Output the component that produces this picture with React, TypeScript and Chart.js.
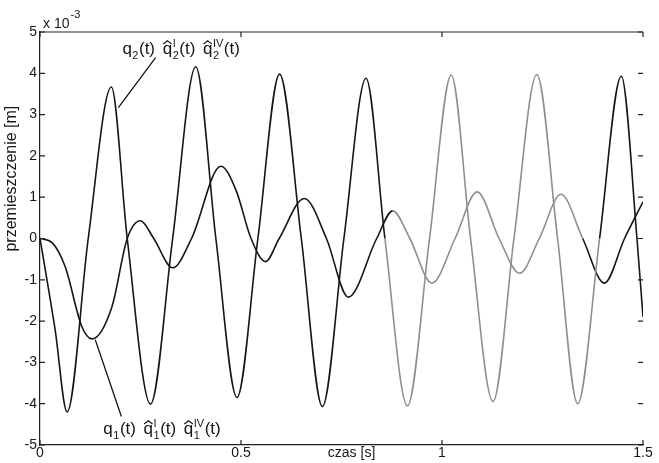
import React, { useEffect, useRef } from "react";
import { Chart, registerables } from "chart.js";

Chart.register(...registerables);

// ---- data (displacement in units of 1e-3 m, time in s) ----
const xTickValues = [0, 0.5, 1, 1.5];
const yTickValues = [-5, -4, -3, -2, -1, 0, 1, 2, 3, 4, 5];

const q2Time = [
  0, 0.0375, 0.0675, 0.12, 0.1775, 0.217, 0.275, 0.33, 0.3875, 0.4375, 0.49, 0.542,
  0.596, 0.65, 0.7025, 0.756, 0.811, 0.858, 0.914, 0.969, 1.023, 1.071, 1.127, 1.179,
  1.236, 1.2875, 1.3375, 1.392, 1.446, 1.485, 1.5,
];
const q2Values = [
  0, -2.2, -4.2, 0, 3.67, 0, -4.01, 0, 4.16, 0, -3.85, 0,
  3.98, 0, -4.07, 0, 3.88, 0, -4.05, 0, 3.96, 0, -3.95, 0,
  3.97, 0, -4.0, 0, 3.93, 0, -1.9,
];

const q1Time = [
  0, 0.03, 0.0625, 0.104, 0.129, 0.179, 0.217, 0.25, 0.283, 0.33, 0.377, 0.45, 0.4875,
  0.525, 0.561, 0.595, 0.6575, 0.7125, 0.767, 0.8375, 0.8775, 0.92, 0.975, 1.0325,
  1.0875, 1.142, 1.193, 1.242, 1.296, 1.35, 1.404, 1.454, 1.5,
];
const q1Values = [
  0, -0.1, -0.68, -2.13, -2.43, -1.65, 0, 0.43, 0, -0.71, 0, 1.75, 1.17,
  0, -0.56, 0, 0.97, 0, -1.42, 0, 0.67, 0, -1.08, 0,
  1.13, 0, -0.84, 0, 1.07, 0, -1.08, 0, 0.89,
];

const xAxisLabel = "czas [s]";
const yAxisLabel = "przemieszczenie [m]";
const scaleLabel = "x 10";
const scaleExponent = "-3";

// faded (lighter scan) interval in time
const fadedFrom = 0.88;
const fadedTo = 1.37;

const FONT = '"Liberation Sans", Arial, Helvetica, sans-serif';
const INK = "#161616";
const FADED = "#8e8e8e";

function drawQ(
  ctx: CanvasRenderingContext2D,
  x: number,
  baseline: number,
  size: number,
  hat: boolean,
  sub: string,
  sup: string
): number {
  ctx.font = `${size}px ${FONT}`;
  ctx.textAlign = "left";
  ctx.textBaseline = "alphabetic";
  const w = ctx.measureText("q").width;
  ctx.fillText("q", x, baseline);
  if (hat) {
    ctx.beginPath();
    ctx.lineWidth = 1.2;
    ctx.moveTo(x + 0.05 * w, baseline - 0.6 * size);
    ctx.lineTo(x + 0.5 * w, baseline - 0.8 * size);
    ctx.lineTo(x + 0.95 * w, baseline - 0.6 * size);
    ctx.stroke();
  }
  const small = Math.round(size * 0.62);
  ctx.font = `${small}px ${FONT}`;
  let sw = 0;
  if (sub) {
    ctx.fillText(sub, x + w + 0.5, baseline + 0.28 * size);
    sw = Math.max(sw, ctx.measureText(sub).width);
  }
  if (sup) {
    ctx.fillText(sup, x + w + 0.5, baseline - 0.42 * size);
    sw = Math.max(sw, ctx.measureText(sup).width);
  }
  ctx.font = `${size}px ${FONT}`;
  return x + w + 0.5 + sw + 0.5;
}

function drawText(ctx: CanvasRenderingContext2D, s: string, x: number, baseline: number, size: number): number {
  ctx.font = `${size}px ${FONT}`;
  ctx.textAlign = "left";
  ctx.textBaseline = "alphabetic";
  ctx.fillText(s, x, baseline);
  return x + ctx.measureText(s).width;
}

function drawLabelGroup(ctx: CanvasRenderingContext2D, x: number, baseline: number, size: number, idx: string) {
  let cx = x;
  const gap = size * 0.45;
  cx = drawQ(ctx, cx, baseline, size, false, idx, "");
  cx = drawText(ctx, "(t)", cx, baseline, size);
  cx += gap;
  cx = drawQ(ctx, cx, baseline, size, true, idx, "I");
  cx = drawText(ctx, "(t)", cx, baseline, size);
  cx += gap;
  cx = drawQ(ctx, cx, baseline, size, true, idx, "IV");
  drawText(ctx, "(t)", cx, baseline, size);
}

const framePlugin = {
  id: "matlabFrame",
  afterDraw(chart: any) {
    const { ctx, chartArea: a, scales } = chart;
    const xs = scales.x;
    const ys = scales.y;
    ctx.save();
    ctx.strokeStyle = "#222";
    ctx.fillStyle = INK;
    ctx.lineWidth = 1.2;
    // top border
    ctx.beginPath();
    ctx.moveTo(a.left, a.top);
    ctx.lineTo(a.right, a.top);
    ctx.stroke();
    // inward ticks
    ctx.beginPath();
    for (const v of yTickValues) {
      const py = ys.getPixelForValue(v);
      ctx.moveTo(a.left, py);
      ctx.lineTo(a.left + 5, py);
      ctx.moveTo(a.right - 5, py);
      ctx.lineTo(a.right, py);
    }
    for (const v of xTickValues) {
      const px = xs.getPixelForValue(v);
      ctx.moveTo(px, a.bottom);
      ctx.lineTo(px, a.bottom - 5);
      ctx.moveTo(px, a.top);
      ctx.lineTo(px, a.top + 5);
    }
    ctx.stroke();

    // exponent label
    ctx.font = `14px ${FONT}`;
    ctx.textAlign = "left";
    ctx.textBaseline = "alphabetic";
    ctx.fillText(scaleLabel, a.left + 3, a.top - 4);
    const w10 = ctx.measureText(scaleLabel).width;
    ctx.font = `11px ${FONT}`;
    ctx.fillText(scaleExponent, a.left + 3 + w10 + 1, a.top - 14);

    // x axis label
    ctx.font = `14px ${FONT}`;
    ctx.textAlign = "center";
    ctx.textBaseline = "middle";
    ctx.fillText(xAxisLabel, xs.getPixelForValue(0.775), a.bottom + 8);

    // y axis label
    ctx.save();
    ctx.translate(12, ys.getPixelForValue(1.45));
    ctx.rotate(-Math.PI / 2);
    ctx.font = `16px ${FONT}`;
    ctx.textAlign = "center";
    ctx.textBaseline = "middle";
    ctx.fillText(yAxisLabel, 0, 0);
    ctx.restore();

    // annotations
    ctx.strokeStyle = INK;
    ctx.lineWidth = 1.3;
    ctx.beginPath();
    ctx.moveTo(xs.getPixelForValue(0.2875), ys.getPixelForValue(4.38));
    ctx.lineTo(xs.getPixelForValue(0.195), ys.getPixelForValue(3.17));
    ctx.moveTo(xs.getPixelForValue(0.2025), ys.getPixelForValue(-4.31));
    ctx.lineTo(xs.getPixelForValue(0.1375), ys.getPixelForValue(-2.45));
    ctx.stroke();

    drawLabelGroup(ctx, xs.getPixelForValue(0.205), ys.getPixelForValue(4.46), 17, "2");
    drawLabelGroup(ctx, xs.getPixelForValue(0.1575), ys.getPixelForValue(-4.74), 17, "1");
    ctx.restore();
  },
};

function segColor(c: any) {
  const t = (c.p0.parsed.x + c.p1.parsed.x) / 2;
  return t > fadedFrom && t < fadedTo ? FADED : INK;
}

export default function App() {
  const ref = useRef<HTMLCanvasElement | null>(null);
  useEffect(() => {
    if (!ref.current) return;
    const tickFont = { family: FONT, size: 14 };
    const chart = new Chart(ref.current, {
      type: "line",
      data: {
        datasets: [
          {
            label: "q2",
            data: q2Time.map((t, i) => ({ x: t, y: q2Values[i] })),
            borderColor: INK,
            borderWidth: 1.6,
            pointRadius: 0,
            cubicInterpolationMode: "monotone",
            segment: { borderColor: segColor },
          },
          {
            label: "q1",
            data: q1Time.map((t, i) => ({ x: t, y: q1Values[i] })),
            borderColor: INK,
            borderWidth: 1.6,
            pointRadius: 0,
            cubicInterpolationMode: "monotone",
            segment: { borderColor: segColor },
          },
        ],
      },
      options: {
        animation: false,
        responsive: false,
        layout: { padding: { top: 32, right: 16, left: 0, bottom: 0 } },
        plugins: { legend: { display: false }, tooltip: { enabled: false } },
        scales: {
          x: {
            type: "linear",
            min: 0,
            max: 1.5,
            afterBuildTicks: (s: any) => {
              s.ticks = xTickValues.map((v) => ({ value: v }));
            },
            afterFit: (s: any) => {
              s.height = 18;
            },
            grid: { display: false, drawTicks: false },
            border: { display: true, color: "#222", width: 1.2 },
            ticks: {
              padding: 0,
              font: tickFont,
              color: INK,
              maxRotation: 0,
              autoSkip: false,
              callback: (v: any) => String(v),
            },
          },
          y: {
            type: "linear",
            min: -5,
            max: 5,
            afterBuildTicks: (s: any) => {
              s.ticks = yTickValues.map((v) => ({ value: v }));
            },
            afterFit: (s: any) => {
              s.width = 40;
            },
            grid: { display: false, drawTicks: false },
            border: { display: true, color: "#222", width: 1.2 },
            ticks: {
              padding: 3,
              font: tickFont,
              color: INK,
              autoSkip: false,
              callback: (v: any) => String(v),
            },
          },
        },
      },
      plugins: [framePlugin],
    } as any);
    return () => chart.destroy();
  }, []);

  return (
    <div style={{ position: "absolute", left: 0, top: 0, width: 659, height: 463, background: "#fff" }}>
      <canvas ref={ref} width={659} height={463} style={{ display: "block" }} />
    </div>
  );
}
